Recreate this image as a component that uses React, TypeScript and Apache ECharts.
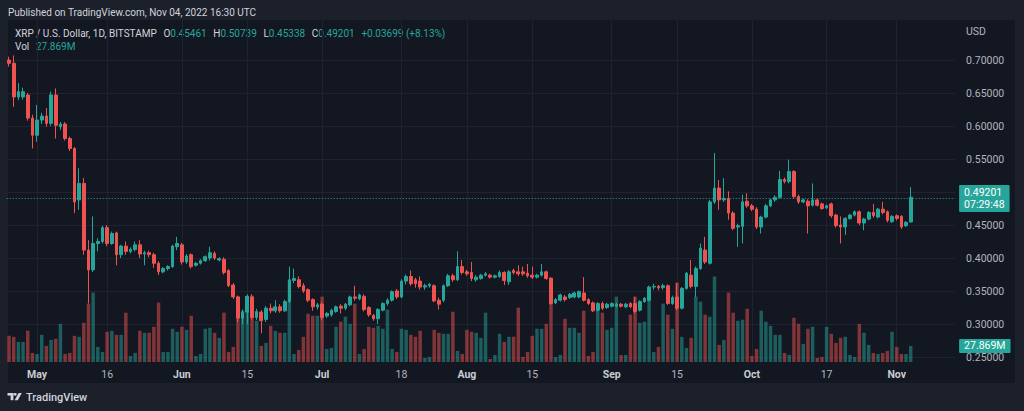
import React, { useEffect, useRef } from "react";
import * as echarts from "echarts";

// ---------- data ----------
const firstDate = "2022-04-25";
const emptyDaysAfter = 9;

const opens = [
  0.700, 0.695, 0.644, 0.644, 0.647, 0.612, 0.586, 0.609, 0.615, 0.604,
  0.647, 0.599, 0.603, 0.581, 0.566, 0.488, 0.513, 0.412, 0.382, 0.422,
  0.425, 0.446, 0.422, 0.438, 0.405, 0.418, 0.410, 0.413, 0.420, 0.406,
  0.408, 0.405, 0.392, 0.379, 0.384, 0.387, 0.417, 0.420, 0.394, 0.405,
  0.389, 0.392, 0.396, 0.400, 0.407, 0.397, 0.398, 0.381, 0.359, 0.341,
  0.309, 0.318, 0.341, 0.310, 0.318, 0.307, 0.324, 0.320, 0.326, 0.320,
  0.334, 0.366, 0.367, 0.358, 0.352, 0.337, 0.326, 0.330, 0.312, 0.314,
  0.319, 0.327, 0.324, 0.329, 0.341, 0.338, 0.342, 0.325, 0.313, 0.308,
  0.321, 0.331, 0.336, 0.350, 0.341, 0.365, 0.372, 0.367, 0.365, 0.356,
  0.358, 0.358, 0.336, 0.336, 0.358, 0.373, 0.367, 0.387, 0.379, 0.378,
  0.367, 0.369, 0.374, 0.374, 0.371, 0.372, 0.378, 0.364, 0.381, 0.379,
  0.379, 0.377, 0.374, 0.371, 0.374, 0.379, 0.369, 0.332, 0.336, 0.341,
  0.340, 0.341, 0.341, 0.347, 0.337, 0.332, 0.321, 0.331, 0.325, 0.327,
  0.327, 0.330, 0.326, 0.331, 0.331, 0.321, 0.334, 0.336, 0.356, 0.357,
  0.355, 0.358, 0.331, 0.341, 0.324, 0.354, 0.374, 0.357, 0.384, 0.412,
  0.392, 0.485, 0.506, 0.488, 0.490, 0.468, 0.447, 0.448, 0.486, 0.479,
  0.474, 0.447, 0.462, 0.479, 0.488, 0.492, 0.519, 0.516, 0.531, 0.493,
  0.485, 0.486, 0.480, 0.488, 0.482, 0.476, 0.482, 0.465, 0.450, 0.447,
  0.460, 0.465, 0.470, 0.453, 0.459, 0.469, 0.462, 0.474, 0.470, 0.455,
  0.464, 0.463, 0.449, 0.45461,
];

const closes = [
  0.695, 0.644, 0.652, 0.652, 0.612, 0.586, 0.609, 0.615, 0.604, 0.647,
  0.601, 0.603, 0.581, 0.566, 0.485, 0.513, 0.412, 0.382, 0.422, 0.425,
  0.446, 0.422, 0.437, 0.405, 0.418, 0.410, 0.413, 0.420, 0.406, 0.408,
  0.405, 0.392, 0.379, 0.384, 0.387, 0.418, 0.422, 0.394, 0.403, 0.387,
  0.392, 0.396, 0.402, 0.408, 0.400, 0.399, 0.378, 0.358, 0.341, 0.309,
  0.318, 0.342, 0.310, 0.319, 0.305, 0.324, 0.320, 0.326, 0.320, 0.334,
  0.367, 0.369, 0.357, 0.350, 0.336, 0.326, 0.329, 0.310, 0.316, 0.321,
  0.326, 0.324, 0.330, 0.341, 0.339, 0.344, 0.322, 0.314, 0.308, 0.322,
  0.331, 0.336, 0.349, 0.341, 0.365, 0.372, 0.361, 0.361, 0.356, 0.358,
  0.360, 0.335, 0.330, 0.358, 0.373, 0.367, 0.387, 0.378, 0.376, 0.369,
  0.371, 0.374, 0.376, 0.371, 0.373, 0.378, 0.366, 0.379, 0.378, 0.376,
  0.376, 0.373, 0.371, 0.374, 0.379, 0.369, 0.331, 0.337, 0.344, 0.337,
  0.345, 0.347, 0.349, 0.336, 0.331, 0.320, 0.331, 0.324, 0.330, 0.331,
  0.330, 0.327, 0.330, 0.326, 0.319, 0.334, 0.339, 0.356, 0.357, 0.355,
  0.358, 0.331, 0.340, 0.324, 0.354, 0.377, 0.357, 0.384, 0.415, 0.394,
  0.485, 0.506, 0.488, 0.490, 0.468, 0.445, 0.449, 0.485, 0.479, 0.474,
  0.447, 0.462, 0.479, 0.488, 0.492, 0.519, 0.516, 0.531, 0.493, 0.485,
  0.488, 0.479, 0.488, 0.480, 0.475, 0.479, 0.464, 0.449, 0.447, 0.460,
  0.465, 0.470, 0.453, 0.459, 0.469, 0.464, 0.474, 0.469, 0.457, 0.463,
  0.460, 0.447, 0.454, 0.49201,
];

const lows = [
  0.690, 0.629, 0.639, 0.640, 0.608, 0.566, 0.576, 0.603, 0.599, 0.600,
  0.581, 0.594, 0.578, 0.562, 0.468, 0.473, 0.405, 0.331, 0.379, 0.410,
  0.422, 0.418, 0.420, 0.389, 0.400, 0.405, 0.407, 0.410, 0.400, 0.389,
  0.401, 0.385, 0.374, 0.377, 0.381, 0.385, 0.412, 0.390, 0.391, 0.384,
  0.387, 0.390, 0.394, 0.396, 0.397, 0.395, 0.375, 0.356, 0.338, 0.303,
  0.300, 0.300, 0.307, 0.306, 0.286, 0.303, 0.316, 0.317, 0.317, 0.318,
  0.332, 0.362, 0.354, 0.347, 0.333, 0.320, 0.322, 0.306, 0.309, 0.311,
  0.317, 0.316, 0.321, 0.327, 0.335, 0.336, 0.319, 0.311, 0.305, 0.300,
  0.319, 0.328, 0.334, 0.338, 0.339, 0.360, 0.358, 0.355, 0.352, 0.352,
  0.355, 0.333, 0.322, 0.333, 0.356, 0.364, 0.365, 0.375, 0.373, 0.365,
  0.364, 0.367, 0.372, 0.369, 0.369, 0.370, 0.359, 0.359, 0.375, 0.373,
  0.373, 0.370, 0.368, 0.369, 0.372, 0.367, 0.329, 0.330, 0.334, 0.334,
  0.338, 0.339, 0.339, 0.334, 0.329, 0.318, 0.319, 0.321, 0.323, 0.325,
  0.325, 0.325, 0.324, 0.324, 0.316, 0.319, 0.332, 0.334, 0.352, 0.351,
  0.352, 0.329, 0.329, 0.321, 0.322, 0.352, 0.354, 0.341, 0.382, 0.391,
  0.390, 0.482, 0.473, 0.485, 0.458, 0.442, 0.417, 0.422, 0.476, 0.471,
  0.444, 0.437, 0.460, 0.477, 0.485, 0.490, 0.513, 0.513, 0.490, 0.482,
  0.483, 0.437, 0.478, 0.478, 0.473, 0.474, 0.461, 0.446, 0.422, 0.435,
  0.458, 0.463, 0.450, 0.442, 0.457, 0.461, 0.460, 0.466, 0.454, 0.453,
  0.457, 0.444, 0.447, 0.45338,
];

const highs = [
  0.705, 0.707, 0.665, 0.658, 0.650, 0.617, 0.632, 0.620, 0.627, 0.652,
  0.657, 0.606, 0.606, 0.584, 0.568, 0.536, 0.521, 0.427, 0.463, 0.430,
  0.449, 0.450, 0.440, 0.440, 0.420, 0.425, 0.416, 0.425, 0.427, 0.411,
  0.411, 0.408, 0.395, 0.386, 0.389, 0.420, 0.432, 0.423, 0.406, 0.407,
  0.394, 0.398, 0.404, 0.417, 0.410, 0.401, 0.401, 0.383, 0.362, 0.343,
  0.322, 0.345, 0.345, 0.323, 0.321, 0.327, 0.331, 0.336, 0.330, 0.337,
  0.387, 0.384, 0.372, 0.362, 0.354, 0.339, 0.332, 0.333, 0.318, 0.323,
  0.328, 0.330, 0.332, 0.343, 0.358, 0.346, 0.345, 0.327, 0.315, 0.324,
  0.333, 0.339, 0.351, 0.353, 0.368, 0.375, 0.381, 0.370, 0.372, 0.361,
  0.362, 0.360, 0.340, 0.360, 0.376, 0.376, 0.410, 0.397, 0.382, 0.394,
  0.374, 0.376, 0.379, 0.376, 0.375, 0.381, 0.380, 0.382, 0.384, 0.389,
  0.387, 0.391, 0.387, 0.376, 0.391, 0.381, 0.371, 0.339, 0.346, 0.344,
  0.347, 0.349, 0.351, 0.371, 0.339, 0.334, 0.333, 0.334, 0.332, 0.333,
  0.332, 0.332, 0.332, 0.333, 0.341, 0.336, 0.341, 0.358, 0.361, 0.359,
  0.361, 0.360, 0.343, 0.362, 0.356, 0.379, 0.397, 0.387, 0.422, 0.432,
  0.488, 0.559, 0.518, 0.521, 0.501, 0.471, 0.452, 0.496, 0.498, 0.482,
  0.477, 0.464, 0.482, 0.490, 0.495, 0.532, 0.522, 0.549, 0.533, 0.496,
  0.490, 0.489, 0.513, 0.490, 0.484, 0.481, 0.484, 0.467, 0.463, 0.462,
  0.467, 0.472, 0.472, 0.461, 0.471, 0.482, 0.476, 0.485, 0.472, 0.465,
  0.466, 0.465, 0.456, 0.50739,
];

// volume in millions of XRP
const volumes = [
  45.3, 43.6, 34.8, 34.8, 54.0, 15.7, 13.9, 47.0, 27.9, 38.3,
  40.1, 66.2, 13.9, 15.7, 45.3, 43.6, 67.9, 101.0, 120.2, 26.1,
  17.4, 52.3, 54.0, 47.0, 47.0, 85.4, 10.5, 15.7, 54.0, 50.5,
  50.5, 61.0, 102.8, 17.4, 17.4, 57.5, 52.3, 61.0, 55.7, 80.1,
  10.5, 13.9, 57.5, 59.2, 50.5, 41.8, 85.4, 17.4, 26.1, 113.2,
  88.8, 113.2, 115.0, 71.4, 27.9, 33.1, 62.7, 54.0, 50.5, 50.5,
  141.1, 13.9, 20.9, 43.6, 83.6, 80.1, 80.1, 113.2, 22.6, 24.4,
  61.0, 69.7, 78.4, 66.2, 101.0, 13.9, 22.6, 61.0, 59.2, 62.7,
  57.5, 90.6, 22.6, 17.4, 57.5, 55.7, 47.0, 43.6, 54.0, 7.0,
  8.7, 55.7, 50.5, 48.8, 48.8, 87.1, 19.2, 13.9, 55.7, 52.3,
  50.5, 41.8, 85.4, 5.2, 12.2, 48.8, 34.8, 43.6, 43.6, 94.1,
  8.7, 17.4, 45.3, 57.5, 57.5, 66.2, 146.3, 8.7, 12.2, 74.9,
  59.2, 59.2, 50.5, 88.8, 10.5, 17.4, 95.8, 85.4, 55.7, 59.2,
  113.2, 12.2, 12.2, 81.9, 113.2, 67.9, 69.7, 113.2, 17.4, 26.1,
  101.0, 81.9, 57.5, 137.6, 43.6, 24.4, 41.8, 113.2, 104.5, 81.9,
  78.4, 148.1, 29.6, 38.3, 120.2, 85.4, 71.4, 73.2, 92.3, 10.5,
  22.6, 88.8, 69.7, 62.7, 47.0, 47.0, 15.7, 12.2, 76.6, 66.2,
  31.4, 57.5, 61.0, 7.0, 8.7, 61.0, 48.8, 33.1, 41.8, 43.6,
  12.2, 8.7, 66.2, 50.5, 29.6, 15.7, 13.9, 15.7, 19.2, 52.3,
  26.1, 13.9, 13.9, 27.869,
];

const tickDates = [
  "2022-05-01", "2022-05-16", "2022-06-01", "2022-06-15", "2022-07-01",
  "2022-07-18", "2022-08-01", "2022-08-15", "2022-09-01", "2022-09-15",
  "2022-10-01", "2022-10-17", "2022-11-01",
];
const tickLabels = ["May", "16", "Jun", "15", "Jul", "18", "Aug", "15", "Sep", "15", "Oct", "17", "Nov"];

const priceMin = 0.25;
const priceMax = 0.75;
const priceStep = 0.05;
const volumeAxisMax = 592;

const lastPrice = 0.49201;
const countdown = "07:29:48";
const lastVolume = 27.869;
const lastVolumeLabel = "27.869M";

const headerPublished = "Published on TradingView.com, Nov 04, 2022 16:30 UTC";
const symbolTitle = "XRP / U.S. Dollar, 1D, BITSTAMP";
const ohlcLabels = ["O", "H", "L", "C"];
const ohlcValues = ["0.45461", "0.50739", "0.45338", "0.49201"];
const changeText = "+0.03699 (+8.13%)";

// ---------- styles ----------
const UP = "#26a69a";
const DOWN = "#ef5350";
const VOL_UP = "rgba(38,166,154,0.5)";
const VOL_DOWN = "rgba(239,83,80,0.5)";
const PANE = "#131722";
const FRAME = "#1c202b";
const GRID_LINE = "#1f2330";
const TEXT = "#d1d4dc";
const AXIS_TEXT = "#b2b5be";
const FONT = 'Roboto, "Liberation Sans", Arial, sans-serif';
const HEAD_SIZE = 10;

function buildDates(start: string, count: number): string[] {
  const out: string[] = [];
  const d0 = new Date(start + "T00:00:00Z").getTime();
  for (let i = 0; i < count; i++) {
    out.push(new Date(d0 + i * 86400000).toISOString().slice(0, 10));
  }
  return out;
}

export default function App() {
  const ref = useRef<HTMLDivElement>(null);

  useEffect(() => {
    document.body.style.margin = "0";
    document.body.style.background = FRAME;
    if (!ref.current) return;
    const chart = echarts.init(ref.current, undefined, { renderer: "svg" });

    const dates = buildDates(firstDate, opens.length + emptyDaysAfter);
    const candleData = opens.map((o, i) => [o, closes[i], lows[i], highs[i]]);
    const volData = volumes.map((v, i) => ({
      value: v,
      itemStyle: { color: closes[i] >= opens[i] ? VOL_UP : VOL_DOWN },
    }));

    const isTick = (_i: number, v: string) => tickDates.indexOf(v) >= 0;
    const nLines = Math.round((priceMax - priceMin) / priceStep) + 1;
    const hLineColors = Array.from({ length: nLines }, (_, k) => (k === nLines - 1 ? "transparent" : GRID_LINE));

    const gridLeft = 6.7;
    const gridRight = 68.9;

    const headerRich = {
      t: { fill: TEXT, fontSize: HEAD_SIZE, fontFamily: FONT },
      g: { fill: UP, fontSize: HEAD_SIZE, fontFamily: FONT },
    };
    let line2 = `{t|${symbolTitle}}`;
    ohlcLabels.forEach((l, k) => {
      line2 += `  {t|${l}}{g|${ohlcValues[k]}}`;
    });
    line2 += `  {g|${changeText}}`;

    chart.setOption({
      animation: false,
      backgroundColor: PANE,
      textStyle: { fontFamily: FONT },
      grid: [
        { left: gridLeft, right: gridRight, top: 27, bottom: 54 },
        { left: gridLeft, right: gridRight, top: 20, bottom: 49 },
      ],
      xAxis: [
        {
          type: "category",
          gridIndex: 0,
          data: dates,
          boundaryGap: true,
          axisLine: { show: false },
          axisTick: { show: false },
          axisLabel: { show: false },
          splitLine: { show: false },
        },
        {
          type: "category",
          gridIndex: 1,
          data: dates,
          boundaryGap: true,
          axisLine: { show: false },
          axisTick: { show: false, alignWithLabel: true },
          axisLabel: {
            interval: isTick,
            margin: 7,
            color: AXIS_TEXT,
            fontSize: 10.5,
            fontFamily: FONT,
            formatter: (v: string) => {
              const k = tickDates.indexOf(v);
              if (k < 0) return "";
              const s = tickLabels[k];
              return /^\d+$/.test(s) ? `{d|${s}}` : `{m|${s}}`;
            },
            rich: {
              d: { color: AXIS_TEXT, fontSize: 10.5, fontFamily: FONT },
              m: { color: "#c9ccd4", fontSize: 10.5, fontWeight: "bold", fontFamily: FONT },
            },
          },
          splitLine: {
            show: true,
            interval: isTick,
            alignWithLabel: true,
            lineStyle: { color: GRID_LINE, width: 1 },
          },
        },
      ],
      yAxis: [
        {
          type: "value",
          gridIndex: 0,
          position: "right",
          min: priceMin,
          max: priceMax,
          interval: priceStep,
          axisLine: { show: false },
          axisTick: { show: false },
          axisLabel: {
            color: AXIS_TEXT,
            fontSize: 10.5,
            fontFamily: FONT,
            margin: 11,
            showMaxLabel: false,
            formatter: (v: number) => v.toFixed(5),
          },
          splitLine: { show: true, lineStyle: { color: hLineColors, width: 1 } },
        },
        {
          type: "value",
          gridIndex: 1,
          min: 0,
          max: volumeAxisMax,
          show: false,
          splitLine: { show: false },
        },
      ],
      series: [
        {
          name: "Volume",
          type: "bar",
          xAxisIndex: 1,
          yAxisIndex: 1,
          data: volData,
          barWidth: "74%",
          markLine: {
            silent: true,
            symbol: ["none", "none"],
            lineStyle: { color: "transparent", width: 0 },
            data: [{ yAxis: lastVolume }],
            label: {
              position: "end",
              distance: 4,
              formatter: lastVolumeLabel,
              backgroundColor: UP,
              color: "#ffffff",
              fontSize: 10.5,
              fontFamily: FONT,
              padding: [2, 5, 1, 5],
              borderRadius: 1,
            },
          },
        },
        {
          name: "XRPUSD",
          type: "candlestick",
          xAxisIndex: 0,
          yAxisIndex: 0,
          data: candleData,
          barWidth: "68%",
          itemStyle: {
            color: UP,
            color0: DOWN,
            borderColor: UP,
            borderColor0: DOWN,
            borderWidth: 1,
          },
          markLine: {
            silent: true,
            symbol: ["none", "none"],
            lineStyle: { color: UP, type: [1, 2], width: 1 },
            data: [{ yAxis: lastPrice }],
            label: {
              position: "end",
              distance: 4,
              formatter: `${lastPrice.toFixed(5)}\n${countdown}`,
              backgroundColor: UP,
              color: "#ffffff",
              fontSize: 10.5,
              lineHeight: 12,
              fontFamily: FONT,
              padding: [2, 5, 1, 5],
              borderRadius: 1,
            },
          },
        },
      ],
      graphic: [
        { type: "rect", shape: { x: 0, y: 0, width: 1024, height: 20 }, style: { fill: FRAME }, silent: true },
        { type: "rect", shape: { x: 0, y: 0, width: 8, height: 411 }, style: { fill: FRAME }, silent: true },
        { type: "rect", shape: { x: 1015, y: 0, width: 9, height: 411 }, style: { fill: FRAME }, silent: true },
        { type: "rect", shape: { x: 0, y: 383, width: 1024, height: 28 }, style: { fill: FRAME }, silent: true },
        {
          type: "text",
          x: 8,
          y: 12.5,
          style: { text: headerPublished, fill: TEXT, fontSize: HEAD_SIZE, fontFamily: FONT, verticalAlign: "middle" },
        },
        {
          type: "text",
          x: 15,
          y: 33.5,
          style: { text: line2, rich: headerRich, verticalAlign: "middle" },
        },
        {
          type: "text",
          x: 15,
          y: 46.5,
          style: { text: `{t|Vol}  {g|${lastVolumeLabel}}`, rich: headerRich, verticalAlign: "middle" },
        },
        {
          type: "text",
          x: 966,
          y: 31,
          style: { text: "USD", fill: AXIS_TEXT, fontSize: 10.5, fontFamily: FONT, verticalAlign: "middle" },
        },
        // TradingView logo mark
        { type: "rect", shape: { x: 7.5, y: 393, width: 6, height: 2.6 }, style: { fill: TEXT }, silent: true },
        { type: "rect", shape: { x: 10.6, y: 393, width: 2.8, height: 7.2 }, style: { fill: TEXT }, silent: true },
        { type: "circle", shape: { cx: 15.3, cy: 394.3, r: 1.4 }, style: { fill: TEXT }, silent: true },
        {
          type: "polygon",
          shape: { points: [[14.6, 400.2], [17.8, 400.2], [21.8, 393], [18.6, 393]] },
          style: { fill: TEXT },
          silent: true,
        },
        {
          type: "text",
          x: 26,
          y: 397,
          style: { text: "TradingView", fill: TEXT, fontSize: 11, fontWeight: 500, fontFamily: FONT, verticalAlign: "middle" },
        },
      ],
    });

    return () => chart.dispose();
  }, []);

  return <div ref={ref} style={{ width: 1024, height: 411, background: PANE }} />;
}
